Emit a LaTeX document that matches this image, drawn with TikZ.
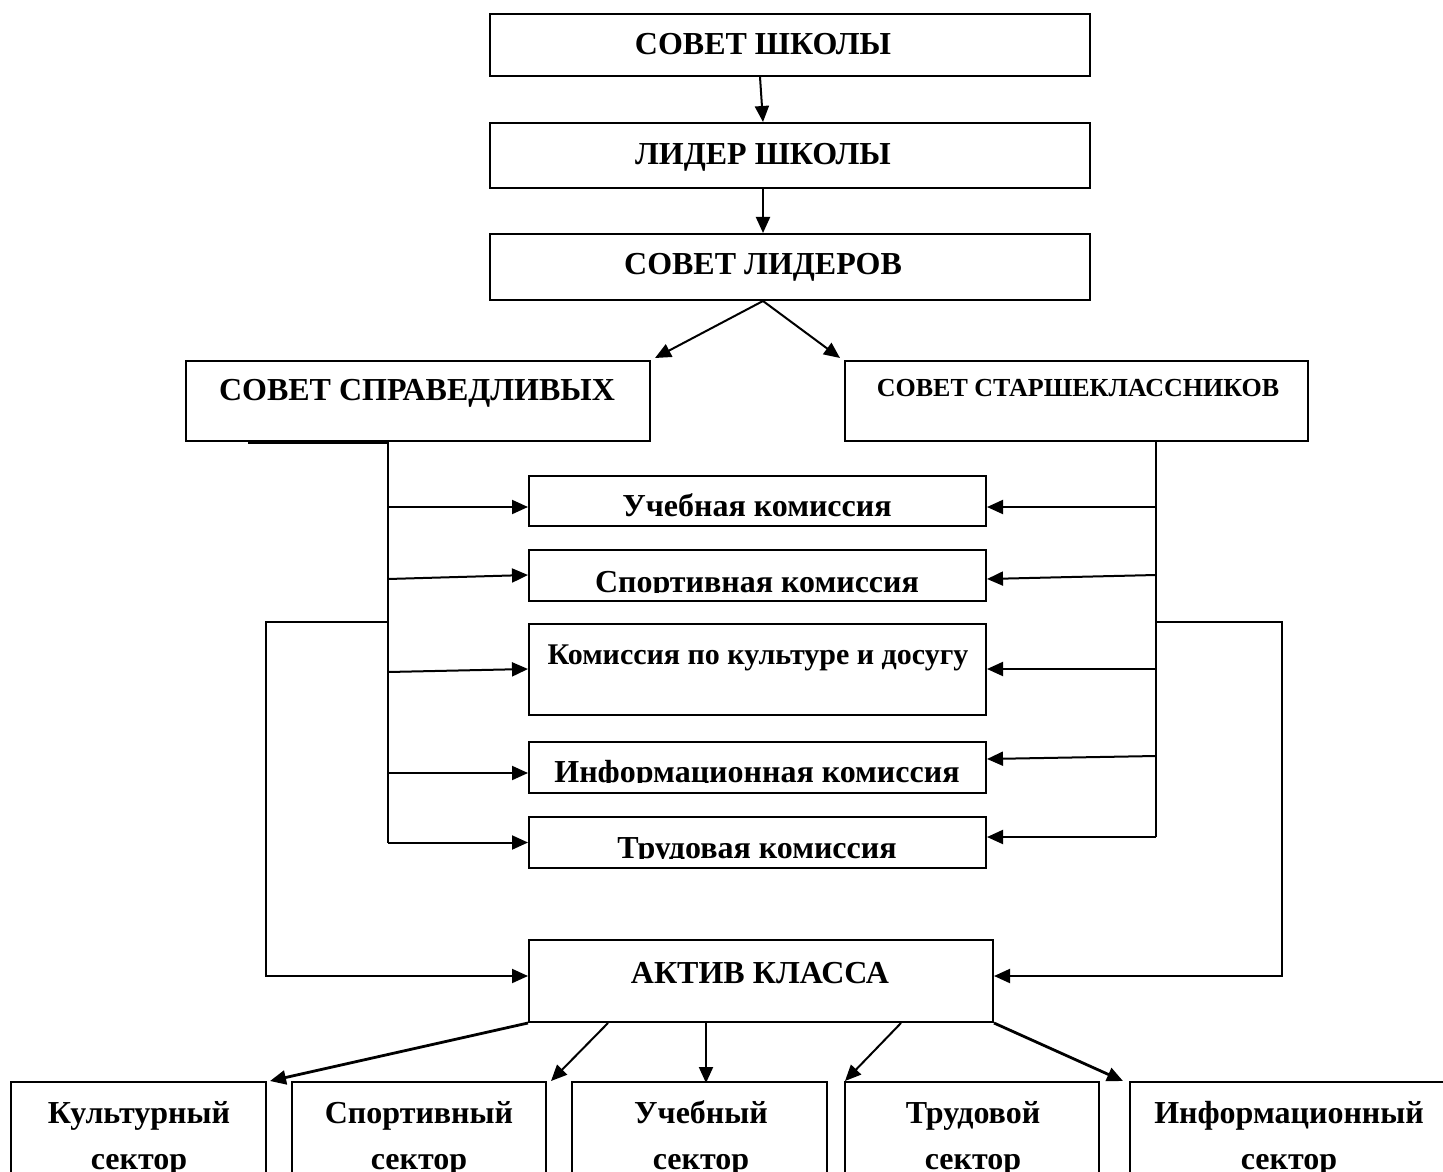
\documentclass[tikz,border=0pt]{standalone}
\usepackage{fontspec}
\setmainfont{Liberation Serif}
\usetikzlibrary{arrows.meta,calc}
\begin{document}
\begin{tikzpicture}[x=0.5pt,y=-0.5pt,
  box/.style={draw,line width=1pt,inner sep=0pt,rectangle},
  txt/.style={inner sep=0pt,anchor=base,font=\fontsize{16pt}{19pt}\selectfont\bfseries},
  stxt/.style={inner sep=0pt,anchor=base,font=\fontsize{13pt}{16pt}\selectfont\bfseries},
  ln/.style={line width=1pt},
  arr/.style={line width=1pt,-{Triangle[length=8pt,width=7pt]}},
  tarr/.style={line width=1.4pt,-{Triangle[length=8pt,width=7pt]}}]
\useasboundingbox (0,0) rectangle (1443,1171);
% boxes
\node[box,minimum width=300pt,minimum height=31pt] (sh) at (790,45) {};
\node[box,minimum width=300pt,minimum height=32.5pt] (ls) at (790,155.5) {};
\node[box,minimum width=300pt,minimum height=33pt] (sl) at (790,267) {};
\node[box,minimum width=232pt,minimum height=40pt] (sp) at (418,401) {};
\node[box,minimum width=231.5pt,minimum height=40pt] (ss) at (1076.5,401) {};
\node[box,minimum width=228.5pt,minimum height=25pt] (k1) at (757.5,501) {};
\node[box,minimum width=228.5pt,minimum height=25.5pt] (k2) at (757.5,575.5) {};
\node[box,minimum width=228.5pt,minimum height=45.5pt] (k3) at (757.5,669.5) {};
\node[box,minimum width=228.5pt,minimum height=25.5pt] (k4) at (757.5,767.5) {};
\node[box,minimum width=228.5pt,minimum height=25.5pt] (k5) at (757.5,842.5) {};
\node[box,minimum width=232pt,minimum height=41pt] (ak) at (761,981) {};
\node[box,minimum width=127.5pt,minimum height=59pt] (s1) at (138.5,1141) {};
\node[box,minimum width=127pt,minimum height=59pt] (s2) at (419,1141) {};
\node[box,minimum width=127.5pt,minimum height=59pt] (s3) at (699.5,1141) {};
\node[box,minimum width=127pt,minimum height=59pt] (s4) at (972,1141) {};
\node[box,minimum width=160pt,minimum height=59pt] (s5) at (1290,1141) {};
% texts
\node[txt] (tsh) at (763,55) {СОВЕТ ШКОЛЫ};
\node[txt] (tls) at (763,165) {ЛИДЕР ШКОЛЫ};
\node[txt] (tsl) at (763,275) {СОВЕТ ЛИДЕРОВ};
\node[txt] (tsp) at (417,400) {СОВЕТ СПРАВЕДЛИВЫХ};
\node[stxt] (tss) at (1078,396) {СОВЕТ СТАРШЕКЛАССНИКОВ};
\node[txt] (tk1) at (757,516) {Учебная комиссия};
\begin{scope}
\clip (529,550) rectangle (986,592);
\node[txt] (tk2) at (757,592) {Спортивная комиссия};
\end{scope}
\node[txt,font=\fontsize{15pt}{18pt}\selectfont\bfseries] (tk3) at (758,664) {Комиссия по культуре и досугу};
\begin{scope}
\clip (529,742) rectangle (986,782);
\node[txt] (tk4) at (757,782) {Информационная комиссия};
\end{scope}
\begin{scope}
\clip (529,817) rectangle (986,858);
\node[txt] (tk5) at (757,858) {Трудовая комиссия};
\end{scope}
\node[txt] (tak) at (760,983) {АКТИВ КЛАССА};
\node[txt] (ts1a) at (139,1123) {Культурный};
\node[txt] (ts1b) at (139,1169) {сектор};
\node[txt] (ts2a) at (419,1123) {Спортивный};
\node[txt] (ts2b) at (419,1169) {сектор};
\node[txt] (ts3a) at (701,1123) {Учебный};
\node[txt] (ts3b) at (701,1169) {сектор};
\node[txt] (ts4a) at (973,1123) {Трудовой};
\node[txt] (ts4b) at (973,1169) {сектор};
\node[txt] (ts5a) at (1289,1123) {Информационный};
\node[txt] (ts5b) at (1289,1169) {сектор};
% top connectors
\draw[arr] ($(sh.south)+(-30,0)$) -- ($(ls.north)+(-27,0)$);
\draw[arr] ($(ls.south)+(-27,0)$) -- ($(sl.north)+(-27,0)$);
\draw[arr] ($(sl.south)+(-27,0)$) -- ($(sp.north east)+(4,-2)$);
\draw[arr] ($(sl.south)+(-27,0)$) -- ($(ss.north west)+(-4,-2)$);
% thick segment on bottom of sp
\draw[line width=1.6pt] ($(sp.south west)+(63,0)$) -- ($(sp.south west)+(203,0)$);
% left bus
\coordinate (lt) at ($(sp.south west)+(203,0)$);
\coordinate (lb) at (lt |- k5.west);
\draw[ln] (lt) -- (lb);
\draw[arr] (lt |- 0,507) -- (k1.west |- 0,507);
\draw[arr] (lt |- 0,579) -- (k2.west |- 0,575);
\draw[arr] (lt |- 0,672) -- (k3.west |- 0,669);
\draw[arr] (lt |- 0,773) -- (k4.west |- 0,773);
\draw[arr] (lb) -- (k5.west);
% right bus
\coordinate (rt) at ($(ss.south west)+(312,0)$);
\coordinate (rb) at (rt |- 0,837);
\draw[ln] (rt) -- (rb);
\draw[arr] (rt |- 0,507) -- (k1.east |- 0,507);
\draw[arr] (rt |- 0,575) -- (k2.east |- 0,579);
\draw[arr] (rt |- 0,669) -- (k3.east |- 0,669);
\draw[arr] (rt |- 0,756) -- (k4.east |- 0,759);
\draw[arr] (rb) -- (k5.east |- rb);
% loops to aktiv
\coordinate (ll) at (lt |- 0,622);
\coordinate (rl) at (rt |- 0,622);
\draw[arr] (ll) -- (266,622) -- (266,976) -- (ak.west |- 0,976);
\draw[arr] (rl) -- (1282,622) -- (1282,976) -- (ak.east |- 0,976);
% aktiv to sectors
\draw[tarr] (ak.south west) -- ($(s1.north east)+(3,0)$);
\draw[arr] ($(ak.south west)+(80,0)$) -- ($(s2.north east)+(4,0)$);
\draw[arr] ($(ak.south west)+(178,0)$) -- ($(ak.south west)+(178,60)$);
\draw[arr] ($(ak.south west)+(373,0)$) -- ($(s4.north west)+(1,0)$);
\draw[tarr] (ak.south east) -- ($(s5.north west)+(-6,0)$);
\end{tikzpicture}
\end{document}
